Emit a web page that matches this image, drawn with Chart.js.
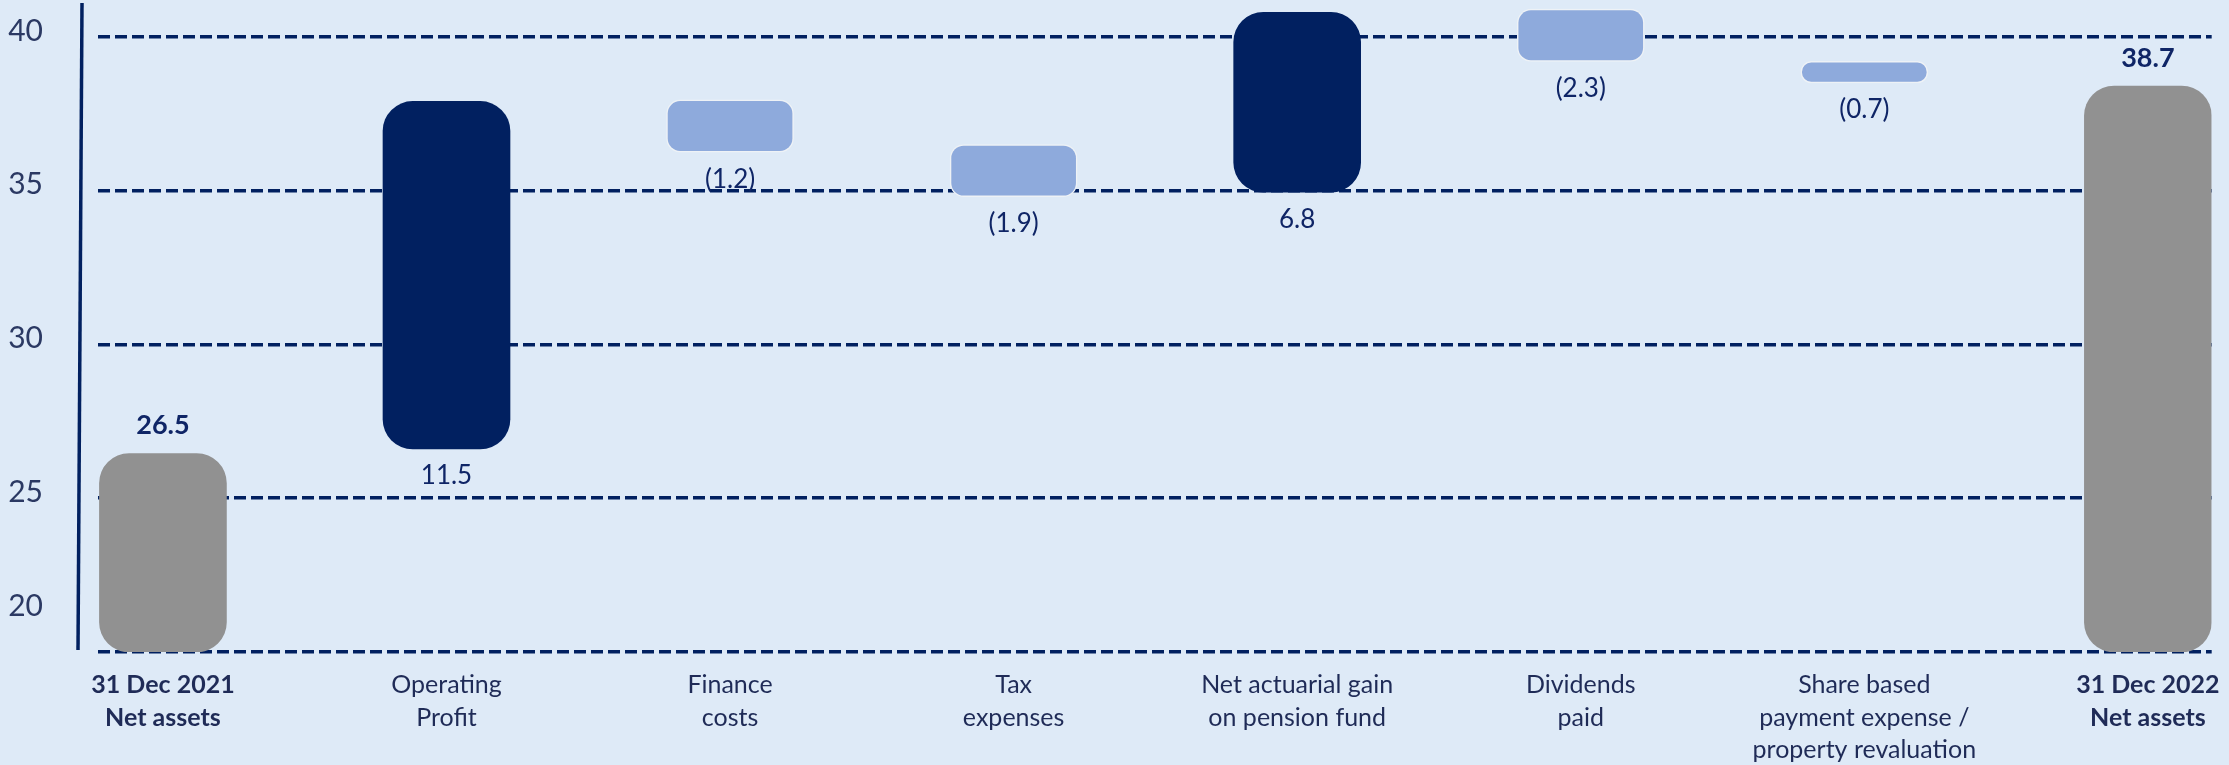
<!DOCTYPE html>
<html>
<head>
<meta charset="utf-8">
<script src="https://cdn.jsdelivr.net/npm/chart.js@4"></script>
<style>
  html, body { margin: 0; padding: 0; background: #deeaf7; }
  #wrap { width: 2229px; height: 765px; }
</style>
</head>
<body>
<div id="wrap"><canvas id="chart" width="2229" height="765"></canvas></div>
<script>
// categories along the bottom
const categories = [
    ['31 Dec 2021', 'Net assets'],
    ['Operating', 'Profit'],
    ['Finance', 'costs'],
    ['Tax', 'expenses'],
    ['Net actuarial gain', 'on pension fund'],
    ['Dividends', 'paid'],
    ['Share based', 'payment expense /', 'property revaluation'],
    ['31 Dec 2022', 'Net assets']
];
// floating bar ends, as drawn in the picture
const barStart = [20, 26.6, 36.25, 34.8, 34.95, 39.2, 38.5, 20];
const barEnd = [26.45, 37.9, 37.95, 36.5, 40.8, 40.9, 39.2, 38.4];
// printed values
const valueText = ['26.5', '11.5', '(1.2)', '(1.9)', '6.8', '(2.3)', '(0.7)', '38.7'];
const barKind = ['total', 'up', 'down', 'down', 'up', 'down', 'down', 'total'];
const yTicks = [20, 25, 30, 35, 40];

const FONT = 'Lato, "Open Sans", sans-serif';
const NAVY = '#012060';
const colours = { total: '#919191', up: '#012060', down: '#8eaadc' };

Chart.defaults.font.family = FONT;

// value labels, y tick labels and the y axis line
const annotate = {
    id: 'annotate',
    afterDatasetsDraw(chart) {
        const { ctx, chartArea, scales: { y } } = chart;
        const bars = chart.getDatasetMeta(0).data;
        ctx.save();
        ctx.textAlign = 'center';
        ctx.textBaseline = 'middle';
        ctx.fillStyle = '#0f2566';
        bars.forEach((bar, i) => {
            const total = barKind[i] === 'total';
            const top = Math.min(bar.y, bar.base);
            const bottom = Math.max(bar.y, bar.base);
            ctx.font = (total ? 'bold 27px ' : '26px ') + FONT;
            ctx.fillText(valueText[i], bar.x, total ? top - 28 : bottom + 27);
        });

        ctx.textAlign = 'right';
        ctx.font = '30px ' + FONT;
        ctx.fillStyle = '#2b3963';
        yTicks.forEach((v, i) => {
            const lift = i === 0 ? 46 : 6;
            ctx.fillText(String(v), chartArea.left - 55, y.getPixelForValue(v) - lift);
        });

        ctx.strokeStyle = NAVY;
        ctx.lineWidth = 3.5;
        ctx.beginPath();
        ctx.moveTo(chartArea.left - 16, chartArea.top);
        ctx.lineTo(chartArea.left - 20, chartArea.bottom - 2);
        ctx.stroke();
        ctx.restore();
    }
};

new Chart(document.getElementById('chart'), {
    type: 'bar',
    data: {
        datasets: [{
            data: categories.map((c, i) => ({ x: i, y: [barStart[i], barEnd[i]] })),
            backgroundColor: barKind.map(k => colours[k]),
            borderColor: barKind.map(k => k === 'down' ? '#eef2f6' : 'rgba(0,0,0,0)'),
            borderWidth: barKind.map(k => k === 'down' ? 1.5 : 0),
            borderRadius: barKind.map(k => k === 'down' ? 14 : 30),
            borderSkipped: false,
            barThickness: 127
        }]
    },
    options: {
        responsive: false,
        animation: false,
        layout: { padding: { left: 0, right: 14, top: 3, bottom: 0 } },
        plugins: {
            legend: { display: false },
            tooltip: { enabled: false }
        },
        scales: {
            x: {
                type: 'linear',
                offset: false,
                min: -0.229,
                max: 7.225,
                afterBuildTicks: scale => { scale.ticks = categories.map((c, i) => ({ value: i })); },
                afterFit: scale => { scale.height = 113; },
                grid: { display: false },
                border: { display: false },
                ticks: {
                    autoSkip: false,
                    maxRotation: 0,
                    padding: 9,
                    color: '#1f2b57',
                    callback: v => categories[v],
                    font: ctx => ({
                        family: FONT,
                        size: 25,
                        lineHeight: 1.3,
                        weight: barKind[ctx.index] === 'total' ? 'bold' : 'normal'
                    })
                }
            },
            y: {
                min: 20,
                max: 41.1,
                afterBuildTicks: scale => { scale.ticks = yTicks.map(v => ({ value: v })); },
                afterFit: scale => { scale.width = 98; },
                ticks: { display: false },
                grid: { color: NAVY, lineWidth: 3.5, drawTicks: false },
                border: { display: false, dash: [12, 5] }
            }
        }
    },
    plugins: [annotate]
});
</script>
</body>
</html>
